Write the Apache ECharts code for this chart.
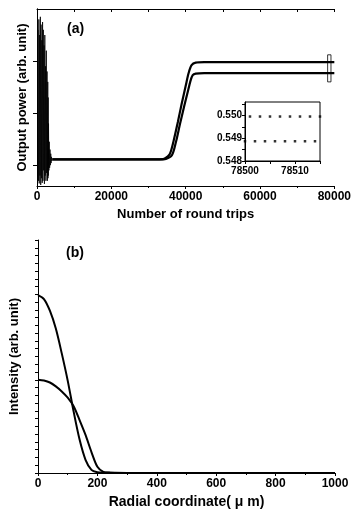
<!DOCTYPE html>
<html>
<head>
<meta charset="utf-8">
<title>Output power and intensity profile</title>
<script src="https://cdn.jsdelivr.net/npm/echarts@6.0.0/dist/echarts.min.js"></script>
<style>
  html, body { margin: 0; padding: 0; background: #fff; }
  #chart { width: 354px; height: 510px; }
</style>
</head>
<body>
<div id="chart"></div>
<script>
  // (a) output power vs number of round trips
  const transientRounds = [300, 400, 500, 600, 700, 800, 900, 1000, 1100, 1200, 1300, 1400, 1500, 1600, 1700, 1800, 1900, 2000, 2100, 2200, 2300, 2400, 2500, 2600, 2700, 2800, 2900, 2950, 3000, 3050, 3100, 3200, 3300, 3400, 3500, 3600, 3700, 3800, 3900, 4000, 4100, 4200];
  const transientPower = [3.6, 0.7, 3.8, 0.65, 3.5, 0.8, 3.85, 0.62, 3.7, 0.75, 3.4, 0.66, 3.75, 0.7, 3.6, 0.9, 3.3, 0.64, 3.5, 0.8, 2.9, 0.7, 3.2, 0.85, 2.8, 0.7, 2.6, 0.75, 2.3, 0.8, 1.8, 0.9, 1.45, 0.95, 1.3, 1.0, 1.22, 1.04, 1.16, 1.08, 1.13, 1.11];

  const upperRounds = [4200, 33000, 34400, 35700, 36800, 37900, 38900, 40000, 40800, 41600, 42700, 45000, 80000];
  const upperPower = [1.11, 1.11, 1.13, 1.21, 1.48, 1.83, 2.17, 2.52, 2.77, 2.92, 2.97, 2.98, 2.98];

  const lowerRounds = [4200, 33000, 34700, 36300, 37400, 38500, 39600, 40600, 41300, 41900, 42700, 45000, 80000];
  const lowerPower = [1.11, 1.11, 1.12, 1.19, 1.45, 1.80, 2.13, 2.42, 2.62, 2.73, 2.76, 2.77, 2.77];

  const powerTicks = [1, 2, 3];
  const zoomBoxRounds = [78200, 79100];
  const zoomBoxPower = [2.6, 3.12];

  // inset
  const insetUpperRounds = [78501, 78503, 78505, 78507, 78509, 78511, 78513, 78515];
  const insetUpperPower = [0.54996, 0.54996, 0.54996, 0.54996, 0.54996, 0.54996, 0.54996, 0.54996];
  const insetLowerRounds = [78500, 78502, 78504, 78506, 78508, 78510, 78512, 78514];
  const insetLowerPower = [0.54887, 0.54887, 0.54887, 0.54887, 0.54887, 0.54887, 0.54887, 0.54887];
  const insetTicks = [0.548, 0.5485, 0.549, 0.5495, 0.55, 0.5505];
  const insetLabels = [0.548, 0.549, 0.55];

  // (b) intensity vs radial coordinate
  const radialUm = [0, 20, 40, 60, 80, 100, 120, 140, 160, 180, 200, 220, 240, 260, 300, 1000];
  const narrowBeam = [22.9, 22.4, 20.9, 18.6, 15.4, 11.9, 7.9, 4.3, 1.7, 0.4, 0.1, 0.05, 0.02, 0, 0, 0];
  const wideBeam = [12.0, 11.9, 11.65, 11.15, 10.5, 9.7, 8.6, 6.8, 4.9, 2.7, 0.8, 0.15, 0.05, 0.02, 0, 0];

  const pairs = (xs, ys) => xs.map((x, i) => [x, ys[i]]);

  const font = "'Liberation Sans', Arial, sans-serif";
  const black = '#000';
  const axisLine = { show: true, lineStyle: { color: black, width: 1 } };
  const plain = v => String(v);

  let chart = echarts.init(document.getElementById('chart'));

  let option = {
    backgroundColor: '#fff',
    animation: false,
    textStyle: { fontFamily: font, color: black },
    title: [
      { text: '(a)', left: 62, top: 17, textStyle: { fontFamily: font, fontSize: 14, fontWeight: 'bold', color: black } },
      { text: '(b)', left: 61, top: 241, textStyle: { fontFamily: font, fontSize: 14, fontWeight: 'bold', color: black } }
    ],
    grid: [
      { left: 37, top: 9, width: 298, height: 177 },
      { left: 245, top: 102, width: 75, height: 59, show: true, borderColor: black, borderWidth: 1, backgroundColor: '#fff' },
      { left: 34, top: 240, width: 301, height: 233 }
    ],
    xAxis: [
      {
        gridIndex: 0, type: 'value', min: 0, max: 80000, interval: 20000,
        axisLine: axisLine,
        axisTick: { inside: false, length: 3, lineStyle: { color: black } },
        minorTick: { show: true, splitNumber: 2, length: 2, lineStyle: { color: black } },
        splitLine: { show: false },
        axisLabel: { color: black, fontFamily: font, fontSize: 12, fontWeight: 'bold', margin: 5, formatter: plain },
        name: 'Number of round trips', nameLocation: 'middle', nameGap: 22,
        nameTextStyle: { color: black, fontFamily: font, fontSize: 13, fontWeight: 'bold' }
      },
      {
        gridIndex: 0, type: 'value', position: 'top', min: 0, max: 80000, interval: 10000,
        axisLine: axisLine,
        axisTick: { inside: true, length: 3, lineStyle: { color: black } },
        splitLine: { show: false },
        axisLabel: { show: false }
      },
      {
        gridIndex: 1, type: 'value', min: 78500, max: 78515, interval: 5,
        axisLine: axisLine,
        axisTick: { inside: false, length: 3, lineStyle: { color: black } },
        splitLine: { show: false },
        axisLabel: {
          color: black, fontFamily: font, fontSize: 10, fontWeight: 'bold', margin: 5,
          formatter: v => (v % 10 === 0 ? String(v) : '')
        }
      },
      {
        gridIndex: 2, type: 'value', min: 0, max: 1000, interval: 200,
        axisLine: axisLine,
        axisTick: { inside: false, length: 3, lineStyle: { color: black } },
        minorTick: { show: true, splitNumber: 2, length: 2, lineStyle: { color: black } },
        splitLine: { show: false },
        axisLabel: { color: black, fontFamily: font, fontSize: 12, fontWeight: 'bold', margin: 5, formatter: plain },
        name: 'Radial coordinate( μ m)', nameLocation: 'middle', nameGap: 22,
        nameTextStyle: { color: black, fontFamily: font, fontSize: 14, fontWeight: 'bold' }
      }
    ],
    yAxis: [
      {
        gridIndex: 0, type: 'value', min: 0.6, max: 4,
        axisLine: axisLine,
        axisTick: { inside: false, length: 4, customValues: powerTicks, lineStyle: { color: black } },
        splitLine: { show: false },
        axisLabel: { show: false },
        name: 'Output power (arb. unit)', nameLocation: 'middle', nameGap: 8,
        nameTextStyle: { color: black, fontFamily: font, fontSize: 13, fontWeight: 'bold' }
      },
      {
        gridIndex: 0, type: 'value', position: 'right', min: 0.6, max: 4,
        axisLine: axisLine,
        axisTick: { inside: true, length: 3, customValues: powerTicks, lineStyle: { color: black } },
        splitLine: { show: false },
        axisLabel: { show: false }
      },
      {
        gridIndex: 1, type: 'value', min: 0.548, max: 0.5506,
        axisLine: axisLine,
        axisTick: { inside: false, length: 3, customValues: insetTicks, lineStyle: { color: black } },
        splitLine: { show: false },
        axisLabel: {
          color: black, fontFamily: font, fontSize: 10, fontWeight: 'bold', margin: 3,
          customValues: insetLabels, formatter: v => v.toFixed(3)
        }
      },
      {
        gridIndex: 2, type: 'value', min: 0, max: 30, interval: 1,
        axisLine: axisLine,
        axisTick: { inside: false, length: 3, lineStyle: { color: black } },
        splitLine: { show: false },
        axisLabel: { show: false },
        name: 'Intensity (arb. unit)', nameLocation: 'middle', nameGap: 17,
        nameTextStyle: { color: black, fontFamily: font, fontSize: 13, fontWeight: 'bold' }
      }
    ],
    series: [
      {
        name: 'transient', type: 'line', xAxisIndex: 0, yAxisIndex: 0,
        data: pairs(transientRounds, transientPower),
        showSymbol: false, lineStyle: { color: black, width: 0.8 }
      },
      {
        name: 'upper', type: 'line', xAxisIndex: 0, yAxisIndex: 0,
        data: pairs(upperRounds, upperPower),
        smooth: 0.3, showSymbol: false, lineStyle: { color: black, width: 2.2 },
        markArea: {
          silent: true,
          itemStyle: { color: 'rgba(0,0,0,0)', borderColor: black, borderWidth: 0.8 },
          data: [[{ xAxis: zoomBoxRounds[0], yAxis: zoomBoxPower[0] }, { xAxis: zoomBoxRounds[1], yAxis: zoomBoxPower[1] }]]
        }
      },
      {
        name: 'lower', type: 'line', xAxisIndex: 0, yAxisIndex: 0,
        data: pairs(lowerRounds, lowerPower),
        smooth: 0.3, showSymbol: false, lineStyle: { color: black, width: 2.2 }
      },
      {
        name: 'inset upper', type: 'scatter', xAxisIndex: 2, yAxisIndex: 2,
        data: pairs(insetUpperRounds, insetUpperPower),
        symbol: 'rect', symbolSize: 2.5, clip: false, itemStyle: { color: black }
      },
      {
        name: 'inset lower', type: 'scatter', xAxisIndex: 2, yAxisIndex: 2,
        data: pairs(insetLowerRounds, insetLowerPower),
        symbol: 'rect', symbolSize: 2.5, clip: false, itemStyle: { color: black }
      },
      {
        name: 'narrow', type: 'line', xAxisIndex: 3, yAxisIndex: 3,
        data: pairs(radialUm, narrowBeam),
        smooth: 0.3, showSymbol: false, lineStyle: { color: black, width: 2 }
      },
      {
        name: 'wide', type: 'line', xAxisIndex: 3, yAxisIndex: 3,
        data: pairs(radialUm, wideBeam),
        smooth: 0.3, showSymbol: false, lineStyle: { color: black, width: 2 }
      }
    ]
  };

  chart.setOption(option);
</script>
</body>
</html>
